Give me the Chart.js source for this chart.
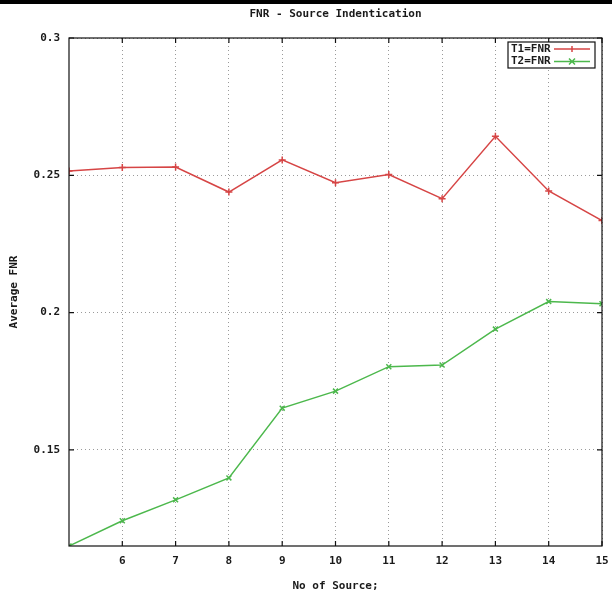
<!DOCTYPE html>
<html>
<head>
<meta charset="utf-8">
<title>FNR - Source Indentication</title>
<script src="https://cdn.jsdelivr.net/npm/chart.js@4.4.1/dist/chart.umd.min.js"></script>
<style>
  html, body { margin: 0; padding: 0; background: #fff; }
  #wrap { position: relative; width: 612px; height: 597px; }
  #topbar { position: absolute; left: 0; top: 0; width: 612px; height: 4px; background: #000; }
  canvas { position: absolute; left: 0; top: 0; }
</style>
</head>
<body>
<div id="wrap">
  <canvas id="graficoFnr" width="612" height="597"></canvas>
  <div id="topbar"></div>
</div>
<script>
// DADOS
const sources = [5, 6, 7, 8, 9, 10, 11, 12, 13, 14, 15];
const t1Fnr = [0.2516, 0.2528, 0.2530, 0.2439, 0.2556, 0.2473, 0.2503, 0.2415, 0.2642, 0.2443, 0.2335];
const t2Fnr = [0.1150, 0.1242, 0.1318, 0.1398, 0.1652, 0.1714, 0.1803, 0.1809, 0.1940, 0.2040, 0.2032];
const xTicks = [6, 7, 8, 9, 10, 11, 12, 13, 14, 15];
const yTicks = [0.15, 0.2, 0.25, 0.3];
const seriesLabels = ["T1=FNR", "T2=FNR"];

const fonte = { family: "'DejaVu Sans Mono', monospace", size: 11, weight: "bold", lineHeight: 1.2 };
const corTexto = "#1a1a1a";

function pontos(valores) {
  return sources.map((s, i) => ({ x: s, y: valores[i] }));
}

// moldura, ticks internos e legenda no estilo gnuplot
const molduraPlugin = {
  id: "moldura",
  afterDatasetsDraw(chart) {
    const { ctx, chartArea: a, scales } = chart;
    ctx.save();
    ctx.strokeStyle = "#111";
    ctx.lineWidth = 1.2;
    ctx.setLineDash([]);
    ctx.strokeRect(a.left, a.top, a.right - a.left, a.bottom - a.top);

    ctx.beginPath();
    xTicks.forEach(v => {
      const px = scales.x.getPixelForValue(v);
      ctx.moveTo(px, a.bottom); ctx.lineTo(px, a.bottom - 5);
      ctx.moveTo(px, a.top); ctx.lineTo(px, a.top + 5);
    });
    yTicks.forEach(v => {
      const py = scales.y.getPixelForValue(v);
      ctx.moveTo(a.left, py); ctx.lineTo(a.left + 5, py);
      ctx.moveTo(a.right, py); ctx.lineTo(a.right - 5, py);
    });
    ctx.stroke();

    // legenda
    const bx = a.right - 94, by = a.top + 4, bw = 87, bh = 26;
    ctx.fillStyle = "#fff";
    ctx.fillRect(bx, by, bw, bh);
    ctx.lineWidth = 1.2;
    ctx.strokeRect(bx, by, bw, bh);
    ctx.font = "bold 11px 'DejaVu Sans Mono', monospace";
    ctx.textBaseline = "middle";
    ctx.textAlign = "left";
    chart.data.datasets.forEach((ds, i) => {
      const ly = by + 7 + i * 12.5;
      ctx.fillStyle = corTexto;
      ctx.fillText(ds.label, bx + 3, ly);
      ctx.strokeStyle = ds.borderColor;
      ctx.lineWidth = 1.5;
      ctx.beginPath();
      ctx.moveTo(bx + 46, ly); ctx.lineTo(bx + 82, ly);
      const mx = bx + 64;
      if (i === 0) {
        ctx.moveTo(mx - 3, ly); ctx.lineTo(mx + 3, ly);
        ctx.moveTo(mx, ly - 3); ctx.lineTo(mx, ly + 3);
      } else {
        ctx.moveTo(mx - 3, ly - 3); ctx.lineTo(mx + 3, ly + 3);
        ctx.moveTo(mx - 3, ly + 3); ctx.lineTo(mx + 3, ly - 3);
      }
      ctx.stroke();
      ctx.strokeStyle = "#111";
    });
    ctx.restore();
  }
};

new Chart(document.getElementById("graficoFnr"), {
  type: "line",
  data: {
    datasets: [
      {
        label: seriesLabels[0],
        data: pontos(t1Fnr),
        borderColor: "#d64545",
        backgroundColor: "#d64545",
        borderWidth: 1.5,
        pointStyle: "cross",
        pointRadius: 3.5,
        pointBorderWidth: 1.5,
        tension: 0
      },
      {
        label: seriesLabels[1],
        data: pontos(t2Fnr),
        borderColor: "#4cb84c",
        backgroundColor: "#4cb84c",
        borderWidth: 1.5,
        pointStyle: "crossRot",
        pointRadius: 3.5,
        pointBorderWidth: 1.5,
        tension: 0
      }
    ]
  },
  options: {
    responsive: false,
    animation: false,
    layout: { padding: { left: 0, right: 10, top: 0, bottom: 0 } },
    plugins: {
      legend: { display: false },
      tooltip: { enabled: false },
      title: {
        display: true,
        text: "FNR - Source Indentication",
        fullSize: false,
        color: corTexto,
        font: fonte,
        padding: { top: 8, bottom: 16.8 }
      }
    },
    scales: {
      x: {
        type: "linear",
        min: 5,
        max: 15,
        afterBuildTicks: scale => { scale.ticks = xTicks.map(v => ({ value: v })); },
        afterFit: scale => {
          scale.height = 51;
          scale.paddingLeft = 0;
          scale.paddingRight = 0;
        },
        ticks: { color: corTexto, font: fonte, padding: 9, maxRotation: 0 },
        grid: { color: "#9a9a9a", lineWidth: 1, drawTicks: false },
        border: { display: false, dash: [1, 3] },
        title: { display: true, text: "No of Source;", color: corTexto, font: fonte, padding: { top: 4, bottom: 4 } }
      },
      y: {
        min: 0.115,
        max: 0.3,
        afterBuildTicks: scale => { scale.ticks = yTicks.map(v => ({ value: v })); },
        afterFit: scale => {
          scale.width = 69;
          scale.paddingTop = 0;
          scale.paddingBottom = 0;
        },
        ticks: { color: corTexto, font: fonte, padding: 9, callback: v => String(v) },
        grid: { color: "#9a9a9a", lineWidth: 1, drawTicks: false },
        border: { display: false, dash: [1, 3] },
        title: { display: true, text: "Average FNR", color: corTexto, font: fonte, padding: { top: 8, bottom: 4 } }
      }
    }
  },
  plugins: [molduraPlugin]
});
</script>
</body>
</html>
